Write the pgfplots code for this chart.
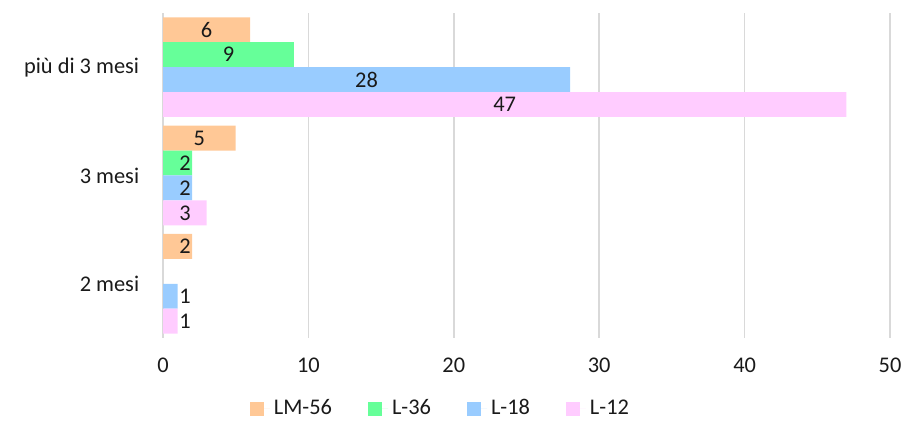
\documentclass[border=0pt]{standalone}
\usepackage{pgfplots}
\pgfplotsset{compat=1.18}
\usepackage{fontspec}
\setmainfont{Carlito}
\definecolor{cLM}{HTML}{FFC896}
\definecolor{cL36}{HTML}{66FF99}
\definecolor{cL18}{HTML}{99CCFF}
\definecolor{cL12}{HTML}{FFCCFF}
\definecolor{gridc}{HTML}{D9D9D9}
\definecolor{txt}{HTML}{1A1A1A}
\begin{document}
\fontsize{11.2}{13}\selectfont
\begin{tikzpicture}
\begin{axis}[
  scale only axis,
  width=363.5pt, height=162.5pt,
  xbar, bar width=0.23,
  xmin=0, xmax=50, xtick={0,10,...,50},
  ymin=-0.5, ymax=2.5, ytick={0,1,2},
  yticklabels={2 mesi,3 mesi,più di 3 mesi},
  /pgf/number format/assume math mode=true,
  major tick length=0pt,
  axis line style={draw=none},
  xmajorgrids, major grid style={gridc, line width=0.8pt},
  tick label style={font=\fontsize{11.2}{13}\selectfont, text=txt},
  xticklabel style={yshift=-6pt},
  yticklabel style={xshift=-8pt},
  enlargelimits=false,
  clip=false,
  visualization depends on={x \as \myx},
  nodes near coords,
  every node near coord/.append style={anchor=center, text=txt,
     font=\fontsize{11.2}{13}\selectfont,
     xshift={max(\myx*3.635,11)*1pt-\myx*7.27pt}},
  legend style={draw=none, fill=none, legend columns=-1,
     at={(axis description cs:0.383,-0.218)}, anchor=center,
     font=\fontsize{11.2}{13}\selectfont, text=txt,
     /tikz/every even column/.append style={column sep=16pt}},
  legend image code/.code={\fill[#1] (0pt,-3.5pt) rectangle (7pt,3.5pt);
     \path (7pt,0pt) -- (10pt,0pt);},
]
\addplot[fill=cLM, draw=none, bar shift=0.345] coordinates {(2,0) (5,1) (6,2)};
\addplot[fill=cL36, draw=none, bar shift=0.115] coordinates {(2,1) (9,2)};
\addplot[fill=cL18, draw=none, bar shift=-0.115] coordinates {(1,0) (2,1) (28,2)};
\addplot[fill=cL12, draw=none, bar shift=-0.345] coordinates {(1,0) (3,1) (47,2)};
\legend{LM-56,L-36,L-18,L-12}
\coordinate (O) at (rel axis cs:0,0);
\end{axis}
\path (O) ++(-81.5pt,-42pt) rectangle ++(462pt,211pt);
\end{tikzpicture}
\end{document}
